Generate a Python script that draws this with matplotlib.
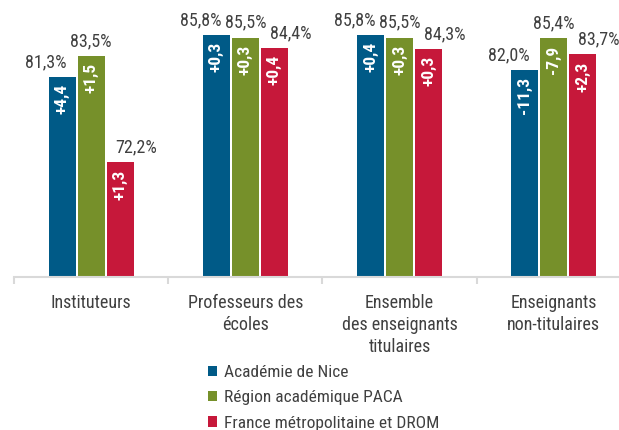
import matplotlib

matplotlib.use("Agg")
import matplotlib.pyplot as plt
from matplotlib.patches import Patch

categories = ["Instituteurs", "Professeurs des\nécoles", "Ensemble\ndes enseignants\ntitulaires", "Enseignants\nnon-titulaires"]
series = ["Académie de Nice", "Région académique PACA", "France métropolitaine et DROM"]
nice = [81.3, 85.8, 85.8, 82.0]
paca = [83.5, 85.5, 85.5, 85.4]
france = [72.2, 84.4, 84.3, 83.7]
nice_delta = ["+4,4", "+0,3", "+0,4", "-11,3"]
paca_delta = ["+1,5", "+0,3", "+0,3", "-7,9"]
france_delta = ["+1,3", "+0,4", "+0,3", "+2,3"]

COLORS = ["#005A87", "#76902A", "#C6183A"]
TEXT = "#404040"

plt.rcParams.update({
    "font.family": ["Roboto Condensed", "Liberation Sans Narrow", "Roboto", "DejaVu Sans"],
    "font.size": 13,
})

fig = plt.figure(figsize=(6.19, 4.30), dpi=100, facecolor="white")
# axis spans past the right edge, like the original
ax = fig.add_axes([14 / 619, 153 / 430, 617 / 619, 277 / 430])
ax.set_xlim(-0.5, 3.5)
ax.set_ylim(60, 89.5)

width = 0.175
step = 0.188
values = [nice, paca, france]
deltas = [nice_delta, paca_delta, france_delta]
shift_pt = [-11.5, 0, 11.5]

for i, (vals, dl) in enumerate(zip(values, deltas)):
    xs = [c + (i - 1) * step for c in range(len(categories))]
    ax.bar(xs, [v - 60 for v in vals], bottom=60, width=width, color=COLORS[i], linewidth=0)
    for x, v, d in zip(xs, vals, dl):
        ax.annotate(f"{v:.1f}%".replace(".", ","), (x, v), xytext=(shift_pt[i], 7),
                    textcoords="offset points", ha="center", va="baseline",
                    color=TEXT, fontsize=13)
        ax.annotate(d, (x, v), xytext=(0, -5), textcoords="offset points",
                    ha="center", va="top", rotation=90, color="white",
                    fontsize=12.5, fontweight="bold")

for s in ["top", "right", "left"]:
    ax.spines[s].set_visible(False)
ax.spines["bottom"].set_color("#d9d9d9")
ax.spines["bottom"].set_linewidth(1.5)
ax.set_yticks([])
ax.set_xticks([-0.5, 0.5, 1.5, 2.5, 3.5])
ax.set_xticklabels([])
ax.tick_params(axis="x", length=5, width=1.5, color="#d9d9d9")
ax.set_xticks(range(len(categories)), minor=True)
ax.set_xticklabels(categories, minor=True, color=TEXT, fontsize=13, linespacing=1.3)
ax.tick_params(axis="x", which="minor", length=0, pad=12)

handles = [Patch(facecolor=c, edgecolor="none") for c in COLORS]
fig.legend(handles, series, loc="upper left", bbox_to_anchor=(201 / 619, 1 - 358 / 430),
           frameon=False, handlelength=0.55, handleheight=0.55, handletextpad=0.35,
           labelspacing=0.6, fontsize=12.5, labelcolor=TEXT, borderaxespad=0)

fig.savefig("out.png", dpi=100, facecolor="white")
